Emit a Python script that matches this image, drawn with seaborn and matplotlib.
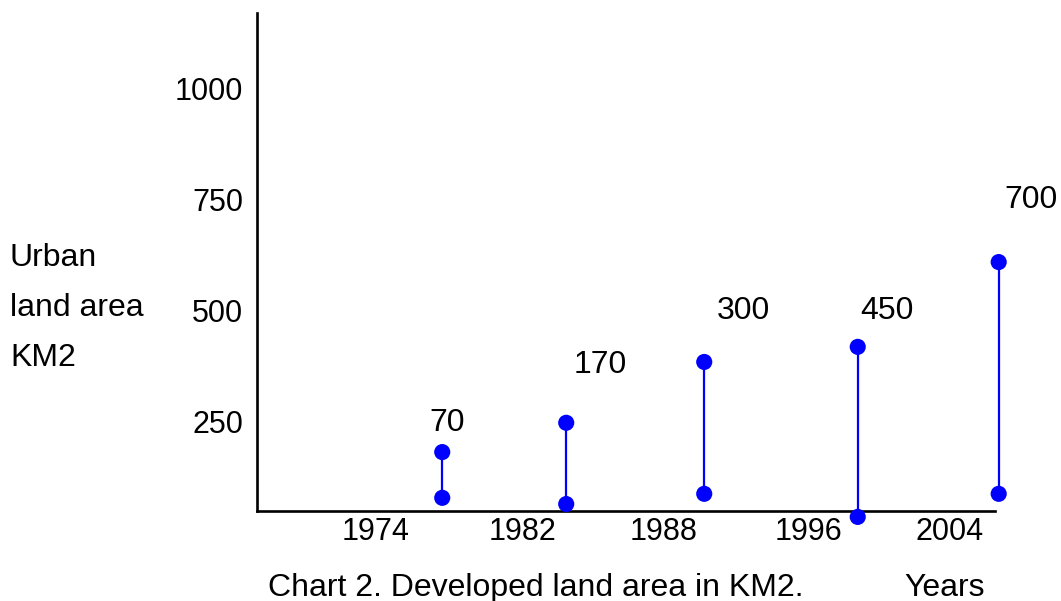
import matplotlib
matplotlib.use("Agg")
import matplotlib.pyplot as plt
import seaborn as sns
import pandas as pd

# Data
years = ["1974", "1982", "1988", "1996", "2004"]
year_pos = [16.0, 36.0, 55.1, 74.7, 93.9]
pair_pos = [25.1, 41.9, 60.6, 81.4, 100.5]
low_vals = [77, 63, 86, 34, 86]
high_vals = [180, 246, 383, 417, 608]
value_labels = ["70", "170", "300", "450", "700"]
value_label_x = [25.7, 46.5, 65.9, 85.4, 104.9]
value_label_y = [246, 377, 498, 498, 748]
y_ticks = [250, 500, 750, 1000]
ylabel_lines = ["Urban", "land area", "KM2"]

# long-form table for the dots
df = pd.DataFrame({
    "x": pair_pos + pair_pos,
    "value": low_vals + high_vals,
})

sns.set_style("white")
plt.rcParams["font.family"] = ["Liberation Sans", "DejaVu Sans"]
plt.rcParams["text.color"] = "black"
plt.rcParams["axes.labelcolor"] = "black"
plt.rcParams["xtick.color"] = "black"
plt.rcParams["ytick.color"] = "black"

tick_fs = 22
fs = 23
blue = "#0000ff"

fig = plt.figure(figsize=(10.61, 6.01), dpi=100)
ax = fig.add_axes([257 / 1061, 90 / 601, 738 / 1061, 498 / 601])

# stems between low and high values
ax.vlines(pair_pos, low_vals, high_vals, color=blue, linewidth=1.6, clip_on=False, zorder=2)
sns.scatterplot(data=df, x="x", y="value", color=blue, s=135, edgecolor="none",
                ax=ax, clip_on=False, zorder=3, legend=False)

for lx, ly, txt in zip(value_label_x, value_label_y, value_labels):
    ax.text(lx, ly, txt, fontsize=fs, ha="center", va="center", clip_on=False)

ax.set_xlim(0, 100)
ax.set_ylim(47.3, 1169)
ax.set_xticks(year_pos)
ax.set_xticklabels(years)
ax.set_yticks(y_ticks)
ax.set_yticklabels([str(v) for v in y_ticks])
ax.tick_params(axis="both", length=0, labelsize=tick_fs)
ax.tick_params(axis="x", pad=4)
ax.tick_params(axis="y", pad=10)
ax.set_xlabel("")
ax.set_ylabel("")

sns.despine(ax=ax)
for side in ["left", "bottom"]:
    ax.spines[side].set_color("black")
    ax.spines[side].set_linewidth(1.9)

# y-axis caption on the far left
for i, line in enumerate(ylabel_lines):
    fig.text(10 / 1061, 1 - (258 + 50 * i) / 601, line, fontsize=fs, ha="left", va="center")

fig.text(268 / 1061, 1 - 588 / 601, "Chart 2. Developed land area in KM2.", fontsize=fs,
         ha="left", va="center")
fig.text(904 / 1061, 1 - 588 / 601, "Years", fontsize=fs, ha="left", va="center")

fig.savefig("out.png", dpi=100)
